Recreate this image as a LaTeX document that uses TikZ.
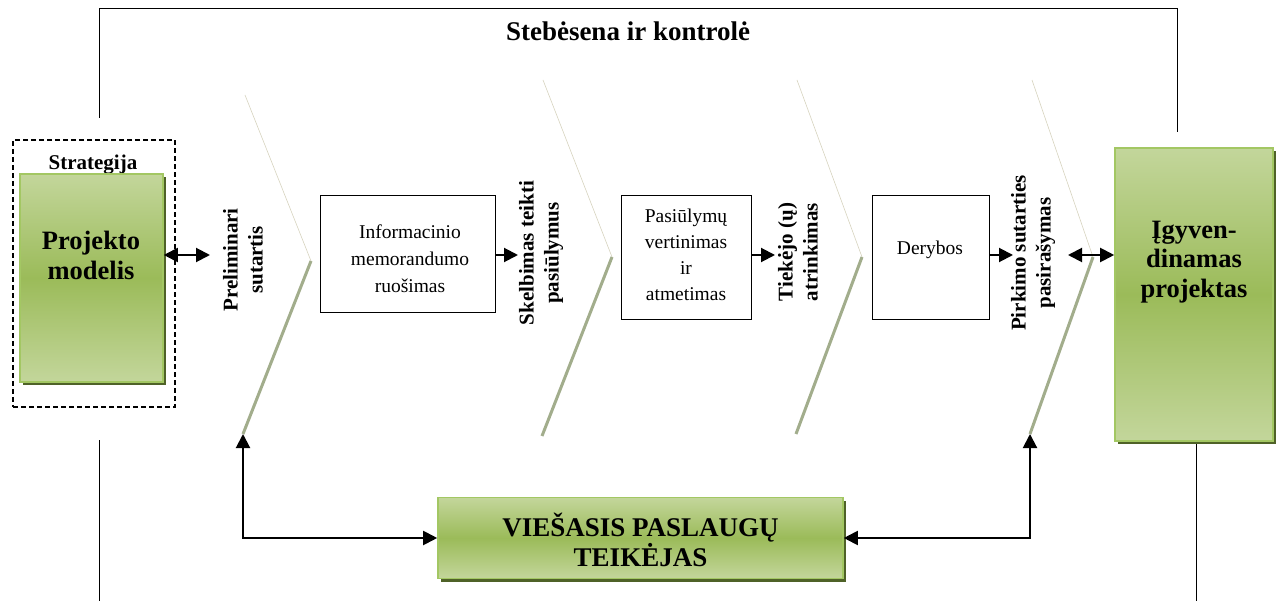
\documentclass[tikz,border=0pt]{standalone}
\usepackage{fontspec}
\setmainfont{Liberation Serif}
\usetikzlibrary{arrows.meta,shadows,calc}
\definecolor{gtop}{HTML}{C3D69B}
\definecolor{gmid}{HTML}{9BBB59}
\definecolor{gedge}{HTML}{A3C763}
\definecolor{gshadow}{HTML}{4F6228}
\definecolor{chev}{HTML}{A2AD8C}
\definecolor{chevthin}{HTML}{D6D3BE}
\begin{document}
\begin{tikzpicture}[x=1pt,y=-1pt,
  greenbox/.style={draw=gedge, line width=1.6pt, top color=gtop, bottom color=gtop, middle color=gmid,
     drop shadow={shadow xshift=3pt, shadow yshift=-3pt, fill=gshadow, opacity=1}, inner sep=0pt},
  plainbox/.style={draw=black, line width=0.8pt, fill=white, inner sep=0pt},
  dashbox/.style={draw=black, line width=1.1pt, dash pattern=on 5pt off 3pt, inner sep=0pt},
  btxt/.style={font=\bfseries\fontsize{21}{24}\selectfont, align=center, inner sep=0pt},
  rtxt/.style={font=\fontsize{19.5}{27}\selectfont, align=center, inner sep=0pt},
  bigtxt/.style={font=\bfseries\fontsize{26.5}{30}\selectfont, align=center, inner sep=0pt},
  rotlbl/.style={font=\bfseries\fontsize{21}{25}\selectfont, align=center, inner sep=0pt, rotate=90},
  chevthick/.style={draw=chev, line width=3pt},
  chevline/.style={draw=chevthin, line width=0.6pt},
  frame/.style={draw=black, line width=0.8pt},
  arr/.style={line width=2pt, -{Triangle[length=14pt,width=14pt]}},
  darr/.style={line width=2pt, {Triangle[length=14pt,width=14pt]}-{Triangle[length=14pt,width=14pt]}}
]
\useasboundingbox (0,0) rectangle (1282,601);

% monitoring frame
\draw[frame] (99,118) -- (99,8) -- (1177,8) -- (1177,132);
\draw[frame] (99,440) -- (99,601);
\draw[frame] (1196,441) -- (1196,601);
\node[btxt, font=\bfseries\fontsize{27}{30}\selectfont, anchor=base] (title) at (628,41) {Stebėsena ir kontrolė};

% chevrons
\coordinate (c1t) at (245,95);  \coordinate (c1v) at (311,261); \coordinate (c1b) at (243,434);
\coordinate (c2t) at (543,80);  \coordinate (c2v) at (612,257); \coordinate (c2b) at (542,436);
\coordinate (c3t) at (797,80);  \coordinate (c3v) at (862,257); \coordinate (c3b) at (796,434);
\coordinate (c4t) at (1032,80); \coordinate (c4v) at (1093,257); \coordinate (c4b) at (1030,434);
\foreach \c in {c1,c2,c3,c4}{
  \draw[chevline] (\c t) -- (\c v);
  \draw[chevthick] (\c v) -- (\c b);
}

% strategy
\node[dashbox, minimum width=162pt, minimum height=267pt] (strat) at (94,273.5) {};
\node[btxt] (stratl) at (93,165) {Strategija};
\node[greenbox, minimum width=143pt, minimum height=208pt] (pm) at (91.5,278) {};
\node[bigtxt] (pmt) at (91,255) {Projekto\\modelis};

% labels on chevrons
\node[rotlbl] (l1) at (243,260) {Preliminari\\sutartis};
\node[rotlbl] (l2) at (541,253) {Skelbimas teikti\\pasiūlymus};
\node[rotlbl] (l3) at (798,252) {Tiekėjo (ų)\\atrinkimas};
\node[rotlbl] (l4) at (1033,253) {Pirkimo sutarties\\pasirašymas};

% process boxes
\node[plainbox, minimum width=175pt, minimum height=117pt] (b1) at (407.5,253.5) {};
\node[rtxt] (b1t) at (410,259) {Informacinio\\memorandumo\\ruošimas};
\node[plainbox, minimum width=130pt, minimum height=124pt] (b2) at (686,257) {};
\node[rtxt, font=\fontsize{19.5}{26}\selectfont] (b2t) at (686,255) {Pasiūlymų\\vertinimas\\ir\\atmetimas};
\node[plainbox, minimum width=117pt, minimum height=124pt] (b3) at (930.5,257) {};
\node[rtxt] (b3t) at (930,250) {Derybos};

% final project
\node[greenbox, minimum width=158pt, minimum height=293pt] (ig) at (1194,294.5) {};
\node[bigtxt, font=\bfseries\fontsize{26.5}{29.5}\selectfont] (igt) at (1194,262) {Įgyven-\\dinamas\\projektas};

% provider
\node[greenbox, minimum width=405pt, minimum height=81pt] (vt) at (640.5,538) {};
\node[bigtxt, font=\bfseries\fontsize{27}{30}\selectfont] (vtt) at (640.5,540) {VIEŠASIS PASLAUGŲ\\TEIKĖJAS};

% arrows
\coordinate (a0) at (210,255);
\coordinate (a1) at (518,255);
\coordinate (a2) at (775,255);
\coordinate (a3) at (1013,255);
\coordinate (a4) at (1068,255);
\draw[darr] (pm.east |- a0) -- (a0);
\draw[arr] (b1.east |- a1) -- (a1);
\draw[arr] (b2.east |- a2) -- (a2);
\draw[arr] (b3.east |- a3) -- (a3);
\draw[darr] (a4) -- (ig.west |- a4);
\draw[darr] (vt.west) -| (c1b);
\draw[darr] (vt.east) -| (c4b);
\end{tikzpicture}
\end{document}
